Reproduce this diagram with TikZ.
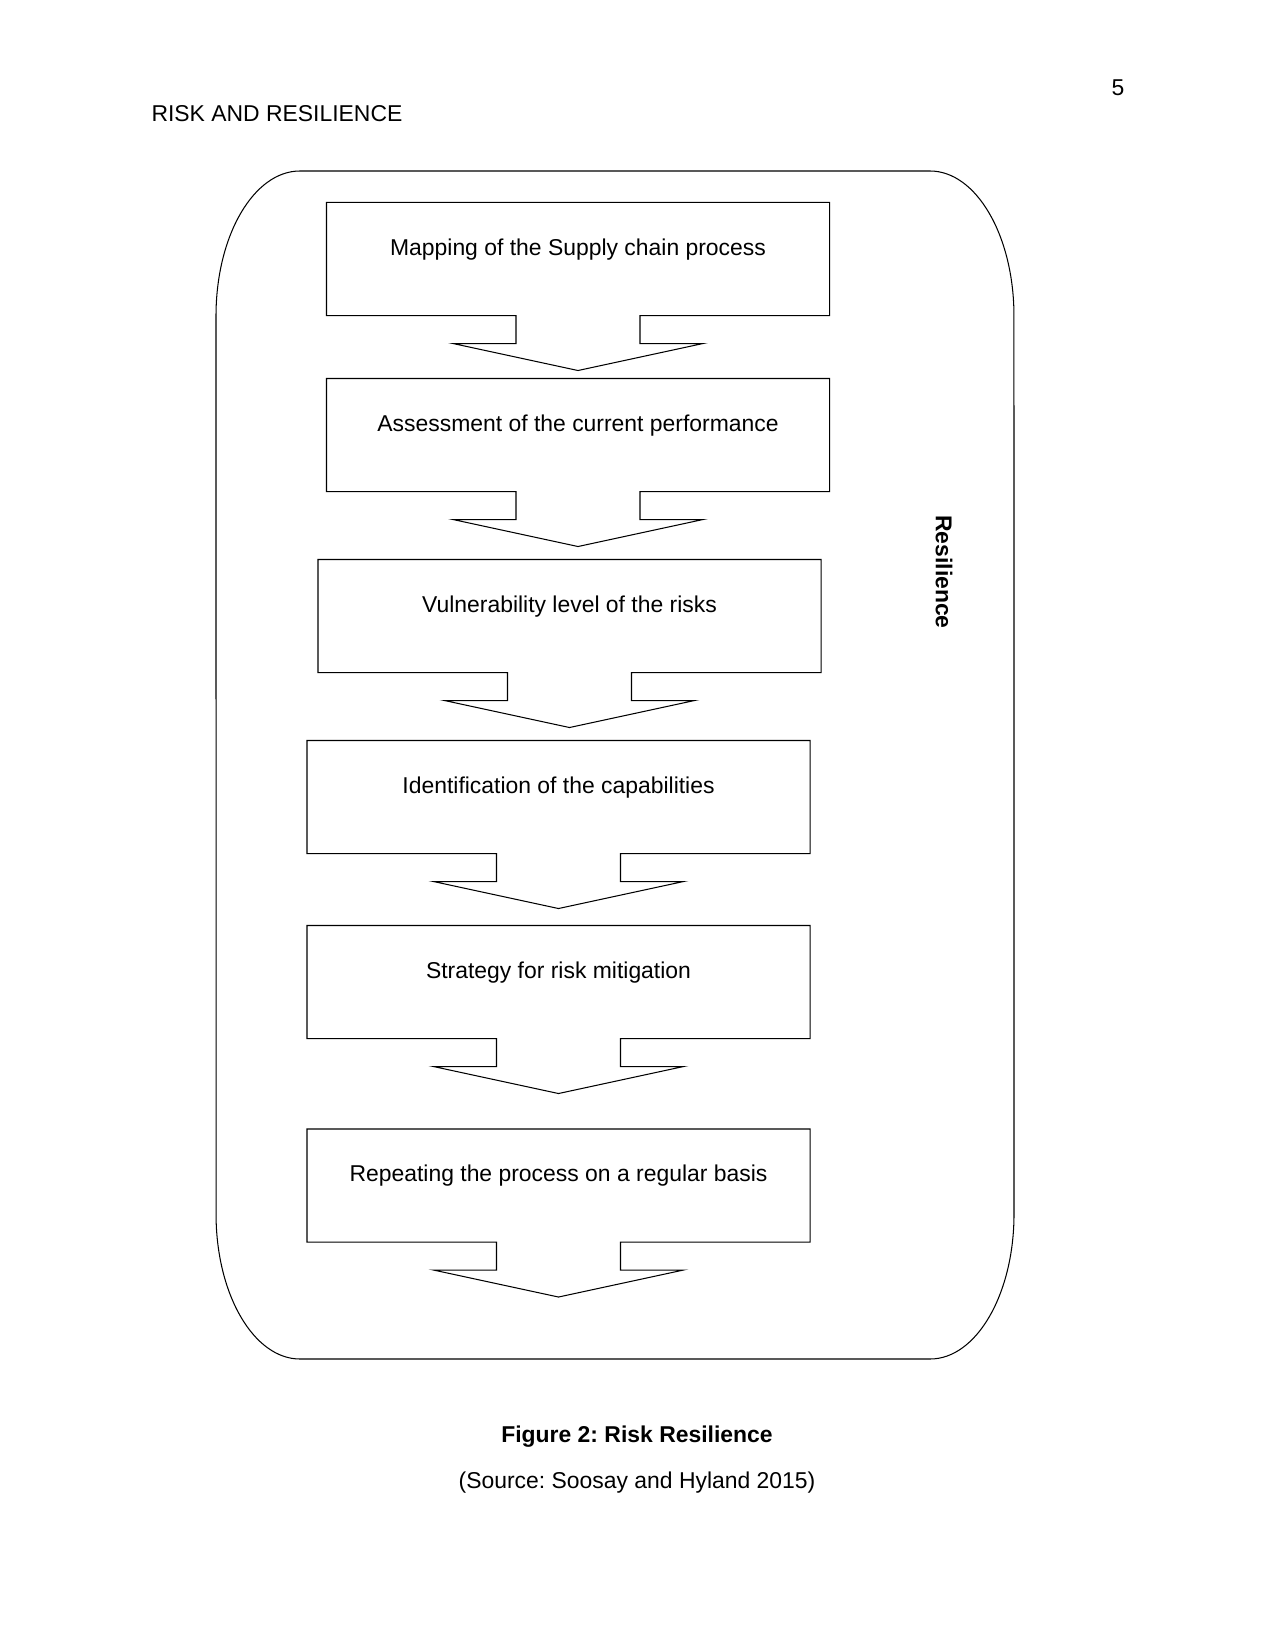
\documentclass[tikz,border=0pt]{standalone}
\usepackage{fontspec}
\setmainfont{Liberation Sans}
\usepackage{tikz}
\usetikzlibrary{positioning,calc}
\frenchspacing
\tikzset{txt/.style={font=\fontsize{11}{13}\selectfont},
	btxt/.style={font=\fontsize{11}{13}\selectfont\bfseries},
	stage/.style={txt,minimum width=502*0.48pt,minimum height=112*0.48pt,inner sep=0pt,text height=8.5pt,text depth=12pt}}

\begin{document}
\begin{tikzpicture}[x=0.48pt,y=-0.48pt,line width=0.5pt]
 	   			\useasboundingbox (0,0) rectangle (1275,1651);
 	   			\node[txt,anchor=west,inner sep=0pt] (head) at (151,114) {RISK AND RESILIENCE};
 	   			\node[txt] (page) at (1118,88) {5};
 	   			\draw (216,316) arc[start angle=180,end angle=90,x radius=40.3pt,y radius=69.6pt] -- (930,171)
 	   				arc[start angle=90,end angle=0,x radius=40.3pt,y radius=69.6pt] -- (1014,1214)
 	   				arc[start angle=0,end angle=-90,x radius=40.3pt,y radius=69.6pt] -- (300,1359)
 	   				arc[start angle=270,end angle=180,x radius=40.3pt,y radius=69.6pt] -- cycle;
 	   			\node[stage] (map) at (578,259) {Mapping of the Supply chain process};
 	   			\node[stage] (assess) at (578,435) {Assessment of the current performance};
 	   			\node[stage] (vuln) at (569.5,616) {Vulnerability level of the risks};
 	   			\node[stage] (ident) at (558.5,797) {Identification of the capabilities};
 	   			\node[stage] (strat) at (558.5,982) {Strategy for risk mitigation};
 	   			\node[stage] (repeat) at (558.5,1185.5) {Repeating the process on a regular basis};
 	   			\foreach \b in {map,assess,vuln,ident,strat,repeat}{
 	   					\draw (\b.south) ++(-62,0) -- (\b.south west) -- (\b.north west) -- (\b.north east) -- (\b.south east) -- ($(\b.south)+(62,0)$)
 	   						-- ++(0,28) -- ++(63,0) -- ++(-125,27) -- ++(-125,-27) -- ++(63,0) -- cycle;
 	   			}
 	   			\node[btxt,rotate=-90] (res) at (944,572) {Resilience};
				\node[btxt] (fig) at (637,1437) {Figure 2: Risk Resilience};
				\node[txt] (src) at (637,1483) {(Source: Soosay and Hyland 2015)};
 	   		\end{tikzpicture}
\end{document}
